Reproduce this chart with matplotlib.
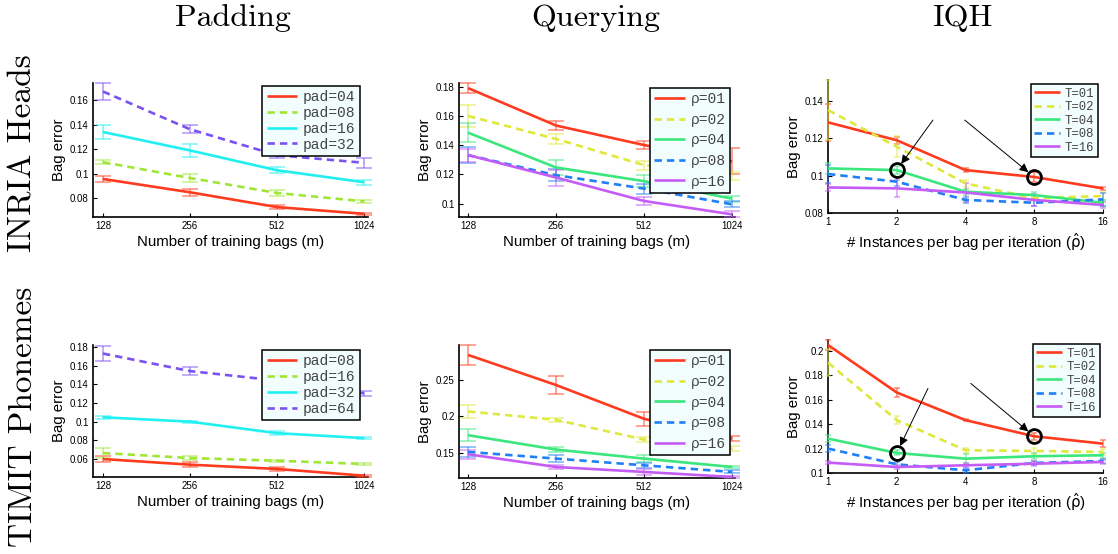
import matplotlib
matplotlib.use('Agg')
import matplotlib.pyplot as plt
from matplotlib.ticker import FixedLocator, FixedFormatter, NullLocator

W, H = 1118, 554
fig = plt.figure(figsize=(W / 100, H / 100), dpi=100)

# ---------------- data ----------------
m_bags = [128, 256, 512, 1024]
m_tick_labels = ['128', '256', '512', '1024']
rho_hat = [1, 2, 4, 8, 16]
rho_tick_labels = ['1', '2', '4', '8', '16']

# INRIA Heads - Padding
inria_pad_labels = ['pad=04', 'pad=08', 'pad=16', 'pad=32']
inria_pad_mean = [[0.0956, 0.0847, 0.0726, 0.0671],
                  [0.1093, 0.0964, 0.0841, 0.0773],
                  [0.1340, 0.1189, 0.1027, 0.0929],
                  [0.1671, 0.1362, 0.1150, 0.1088]]
inria_pad_err = [[0.0026, 0.0030, 0.0016, 0.0010],
                 [0.0018, 0.0030, 0.0025, 0.0015],
                 [0.0060, 0.0055, 0.0026, 0.0020],
                 [0.0070, 0.0034, 0.0025, 0.0040]]

# INRIA Heads - Querying
inria_q_labels = ['\u03c1=01', '\u03c1=02', '\u03c1=04', '\u03c1=08', '\u03c1=16']
inria_q_mean = [[0.1793, 0.1536, 0.1402, 0.1290],
                [0.1602, 0.1444, 0.1264, 0.1190],
                [0.1487, 0.1248, 0.1154, 0.1034],
                [0.1333, 0.1195, 0.1103, 0.0995],
                [0.1333, 0.1179, 0.1018, 0.0926]]
inria_q_err = [[0.0032, 0.0030, 0.0030, 0.0090],
               [0.0075, 0.0037, 0.0030, 0.0030],
               [0.0065, 0.0050, 0.0040, 0.0020],
               [0.0055, 0.0040, 0.0035, 0.0020],
               [0.0045, 0.0055, 0.0030, 0.0020]]

# INRIA Heads - IQH
inria_iqh_labels = ['T=01', 'T=02', 'T=04', 'T=08', 'T=16']
inria_iqh_mean = [[0.1286, 0.1190, 0.1030, 0.0993, 0.0932],
                  [0.1352, 0.1155, 0.0959, 0.0879, 0.0891],
                  [0.1039, 0.1030, 0.0914, 0.0896, 0.0855],
                  [0.1009, 0.0968, 0.0870, 0.0855, 0.0873],
                  [0.0937, 0.0932, 0.0910, 0.0870, 0.0843]]
inria_iqh_err = [[0.0100, 0.0020, 0.0010, 0.0027, 0.0010],
                 [0.0160, 0.0057, 0.0020, 0.0015, 0.0020],
                 [0.0030, 0.0020, 0.0015, 0.0015, 0.0015],
                 [0.0050, 0.0025, 0.0015, 0.0015, 0.0035],
                 [0.0020, 0.0045, 0.0050, 0.0030, 0.0015]]

# TIMIT Phonemes - Padding
timit_pad_labels = ['pad=08', 'pad=16', 'pad=32', 'pad=64']
timit_pad_mean = [[0.0600, 0.0540, 0.0494, 0.0422],
                  [0.0664, 0.0611, 0.0582, 0.0547],
                  [0.1047, 0.1000, 0.0877, 0.0824],
                  [0.1729, 0.1541, 0.1440, 0.1303]]
timit_pad_err = [[0.0030, 0.0025, 0.0020, 0.0010],
                 [0.0050, 0.0025, 0.0010, 0.0010],
                 [0.0015, 0.0010, 0.0018, 0.0010],
                 [0.0080, 0.0040, 0.0030, 0.0030]]

# TIMIT Phonemes - Querying
timit_q_labels = ['\u03c1=01', '\u03c1=02', '\u03c1=04', '\u03c1=08', '\u03c1=16']
timit_q_mean = [[0.2844, 0.2431, 0.1968, 0.1697],
                [0.2069, 0.1954, 0.1683, 0.1560],
                [0.1743, 0.1546, 0.1422, 0.1307],
                [0.1514, 0.1422, 0.1330, 0.1239],
                [0.1482, 0.1307, 0.1239, 0.1170]]
timit_q_err = [[0.0140, 0.0120, 0.0100, 0.0040],
               [0.0090, 0.0030, 0.0040, 0.0030],
               [0.0080, 0.0040, 0.0045, 0.0020],
               [0.0070, 0.0045, 0.0030, 0.0020],
               [0.0060, 0.0030, 0.0040, 0.0020]]

# TIMIT Phonemes - IQH
timit_iqh_labels = ['T=01', 'T=02', 'T=04', 'T=08', 'T=16']
timit_iqh_mean = [[0.2046, 0.1658, 0.1432, 0.1300, 0.1240],
                  [0.1902, 0.1432, 0.1186, 0.1180, 0.1172],
                  [0.1281, 0.1164, 0.1117, 0.1137, 0.1145],
                  [0.1200, 0.1071, 0.1022, 0.1082, 0.1098],
                  [0.1085, 0.1049, 0.1063, 0.1076, 0.1090]]
timit_iqh_err = [[0.0040, 0.0040, 0.0010, 0.0030, 0.0030],
                 [0.0110, 0.0030, 0.0020, 0.0027, 0.0027],
                 [0.0030, 0.0020, 0.0035, 0.0025, 0.0020],
                 [0.0030, 0.0020, 0.0020, 0.0015, 0.0020],
                 [0.0015, 0.0015, 0.0015, 0.0020, 0.0020]]

# highlighted points: (series index, x index) and arrow tail positions (x, y)
iqh_highlight = [(2, 1), (0, 3)]
inria_arrow_tails = [(2.88, 0.1298), (3.97, 0.1298)]
timit_arrow_tails = [(2.74, 0.1691), (4.22, 0.1732)]

col_titles = ['Padding', 'Querying', 'IQH']
row_titles = ['INRIA Heads', 'TIMIT Phonemes']

# ---------------- styles ----------------
pad_colors = ['#ff3b1f', '#9fe637', '#22f0f0', '#7b52f2']
pad_styles = ['-', '--', '-', '--']
q_colors = ['#ff3b1f', '#dfe83c', '#3be67c', '#1f7ff5', '#c45cf5']
q_styles = ['-', '--', '-', '--', '-']

SANS = 'Liberation Sans'
MONO = 'Liberation Mono'


def px_rect(l, r, t, b):
    return [l / W, 1 - b / H, (r - l) / W, (b - t) / H]


def panel(rect, xs, means, errs, labels, colors, styles, xlim, ylim, yticks,
          xticklabels, xlabel, leg_anchor, leg_fs, leg_spacing, capsize,
          leg_font=MONO):
    ax = fig.add_axes(rect)
    ax.set_xscale('log', base=2)
    for mu, er, c, ls, lab in zip(means, errs, colors, styles, labels):
        ax.errorbar(xs, mu, yerr=er, fmt='none', ecolor=c, alpha=0.6,
                    elinewidth=1.1, capsize=capsize, capthick=1.1, zorder=3,
                    clip_on=False)
        ln, = ax.plot(xs, mu, color=c, lw=1.9, ls=ls, label=lab, zorder=4,
                      solid_capstyle='butt')
        if ls == '--':
            ln.set_dashes((2.8, 1.9))
    ax.set_xlim(*xlim)
    ax.set_ylim(*ylim)
    ax.xaxis.set_major_locator(FixedLocator(xs))
    ax.xaxis.set_major_formatter(FixedFormatter(xticklabels))
    ax.xaxis.set_minor_locator(NullLocator())
    ax.set_yticks(yticks)
    ax.set_yticklabels([f'{v:g}' for v in yticks])
    ax.yaxis.set_minor_locator(NullLocator())
    ax.tick_params(direction='in', length=3, width=0.8, labelsize=7,
                   pad=3)
    for lab in ax.get_xticklabels() + ax.get_yticklabels():
        lab.set_fontfamily(SANS)
    for s in ['top', 'right']:
        ax.spines[s].set_visible(False)
    for s in ['left', 'bottom']:
        ax.spines[s].set_linewidth(1.2)
    ax.set_xlabel(xlabel, fontsize=10.8, fontfamily=SANS, labelpad=3)
    ax.set_ylabel('Bag error', fontsize=10.8, fontfamily=SANS, labelpad=3)
    leg = ax.legend(loc='upper right', bbox_to_anchor=leg_anchor,
                    borderaxespad=0, prop={'family': leg_font, 'size': leg_fs},
                    handlelength=2.1, handletextpad=0.4,
                    labelspacing=leg_spacing, borderpad=0.3,
                    fancybox=False, framealpha=1, edgecolor='black')
    leg.get_frame().set_facecolor('#f2fdfd')
    leg.get_frame().set_linewidth(1.1)
    leg.set_zorder(6)
    for t in leg.get_texts():
        t.set_color('#444444')
    return ax


def add_highlights(ax, xs, means, tails):
    for (si, xi), (tx, ty) in zip(iqh_highlight, tails):
        cx, cy = xs[xi], means[si][xi]
        ax.plot([cx], [cy], 'o', ms=10, mfc='none', mec='black', mew=2.0,
                zorder=7)
        ax.annotate('', xy=(cx, cy), xytext=(tx, ty),
                    arrowprops=dict(arrowstyle='-|>', color='black', lw=0.7,
                                    mutation_scale=13, shrinkA=0,
                                    shrinkB=5.5), zorder=7)


m_xlabel = 'Number of training bags (m)'
r_xlabel = '# Instances per bag per iteration ($\\hat{\\mathrm{\\rho}}$)'

# Row 1
panel(px_rect(93, 368, 83, 217), m_bags, inria_pad_mean, inria_pad_err,
      inria_pad_labels, pad_colors, pad_styles, (118.3, 1057),
      (0.0645, 0.174), [0.08, 0.10, 0.12, 0.14, 0.16], m_tick_labels,
      m_xlabel, (0.971, 0.978), 10.5, 0.12, 6)
panel(px_rect(459, 735, 83, 217), m_bags, inria_q_mean, inria_q_err,
      inria_q_labels, q_colors, q_styles, (119.2, 1048),
      (0.0908, 0.1828), [0.10, 0.12, 0.14, 0.16, 0.18], m_tick_labels,
      m_xlabel, (0.982, 0.963), 10.5, 0.45, 6)
ax3 = panel(px_rect(828, 1103, 80, 213), rho_hat, inria_iqh_mean,
            inria_iqh_err, inria_iqh_labels, q_colors, q_styles, (1, 16),
            (0.08, 0.1513), [0.08, 0.10, 0.12, 0.14], rho_tick_labels,
            r_xlabel, (0.982, 0.97), 8.8, 0.12, 2)
add_highlights(ax3, rho_hat, inria_iqh_mean, inria_arrow_tails)

# Row 2
panel(px_rect(93, 368, 345, 477), m_bags, timit_pad_mean, timit_pad_err,
      timit_pad_labels, pad_colors, pad_styles, (118.3, 1057),
      (0.0408, 0.182), [0.06, 0.08, 0.10, 0.12, 0.14, 0.16, 0.18],
      m_tick_labels, m_xlabel, (0.971, 0.962), 10.5, 0.12, 6)
panel(px_rect(459, 735, 345, 478), m_bags, timit_q_mean, timit_q_err,
      timit_q_labels, q_colors, q_styles, (119.2, 1048),
      (0.1156, 0.298), [0.15, 0.20, 0.25], m_tick_labels,
      m_xlabel, (0.982, 0.962), 10.5, 0.45, 6)
ax6 = panel(px_rect(828, 1103, 340, 473), rho_hat, timit_iqh_mean,
            timit_iqh_err, timit_iqh_labels, q_colors, q_styles, (1, 16),
            (0.10, 0.2087), [0.10, 0.12, 0.14, 0.16, 0.18, 0.20],
            rho_tick_labels, r_xlabel, (0.989, 0.97), 8.8, 0.12, 2)
add_highlights(ax6, rho_hat, timit_iqh_mean, timit_arrow_tails)

# Titles
for title, cx in zip(col_titles, [233, 596, 962]):
    fig.text(cx / W, 1 - 18 / H, title, ha='center', va='center',
             fontsize=23, fontfamily='cmr10')
for title, cy in zip(row_titles, [153, 417]):
    fig.text(23 / W, 1 - cy / H, title, ha='center', va='center',
             rotation=90, fontsize=24, fontfamily='cmr10')

fig.savefig('out.png', dpi=100)
